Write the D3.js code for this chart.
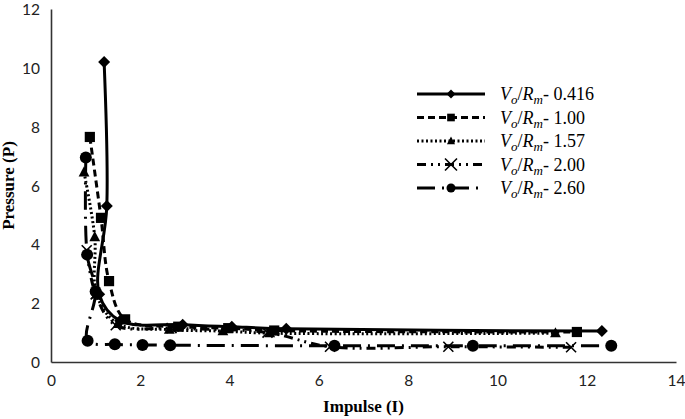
<!DOCTYPE html>
<meta charset="utf-8">
<script src="https://d3js.org/d3.v7.min.js"></script>
<style>
  body { margin: 0; background: #fff; }
</style>
<div id="my_dataviz"></div>
<script>

// series names (V_o/R_m ratio)
var ratios = ["0.416", "1.00", "1.57", "2.00", "2.60"];

// impulse / pressure pairs
var impulse416 = [1.19, 1.25, 1.08, 1.55, 2.95, 4.05, 5.27, 12.34];
var pressure416 = [10.2, 5.3, 2.3, 1.4, 1.27, 1.2, 1.13, 1.05];

var impulse100 = [0.87, 1.12, 1.3, 1.66, 2.85, 3.97, 5.0, 11.78];
var pressure100 = [7.65, 4.9, 2.75, 1.45, 1.2, 1.15, 1.07, 1.02];

var impulse157 = [0.74, 0.98, 1.02, 1.5, 2.65, 3.85, 4.9, 11.3];
var pressure157 = [6.45, 4.25, 2.3, 1.3, 1.1, 1.05, 0.98, 0.98];

var impulse200 = [0.8, 1.0, 1.45, 2.7, 4.85, 6.25, 8.9, 11.65];
var pressure200 = [3.8, 2.3, 1.25, 1.15, 1.0, 0.52, 0.52, 0.5];

var impulse260 = [0.78, 0.81, 1.0, 0.82, 1.43, 2.05, 2.67, 6.35, 9.45, 12.55];
var pressure260 = [6.95, 3.65, 2.4, 0.72, 0.6, 0.58, 0.57, 0.55, 0.55, 0.55];

var xTicks = [0, 2, 4, 6, 8, 10, 12, 14];
var yTicks = [0, 2, 4, 6, 8, 10, 12];

var series = [
  {name: ratios[0], xs: impulse416, ys: pressure416, dash: null, marker: "diamond"},
  {name: ratios[1], xs: impulse100, ys: pressure100, dash: "7,4", marker: "square"},
  {name: ratios[2], xs: impulse157, ys: pressure157, dash: "2,2.5", marker: "triangle"},
  {name: ratios[3], xs: impulse200, ys: pressure200, dash: "9,5,2,5,2,5", marker: "cross"},
  {name: ratios[4], xs: impulse260, ys: pressure260, dash: "18,7,2,7", marker: "circle"}
];

var margin = {top: 9, right: 9, bottom: 57, left: 51},
    width = 685 - margin.left - margin.right,
    height = 419 - margin.top - margin.bottom;

var svg = d3.select("#my_dataviz")
  .append("svg")
    .attr("width", 685)
    .attr("height", 419)
  .append("g")
    .attr("transform", "translate(" + margin.left + "," + margin.top + ")");

var x = d3.scaleLinear().domain([0, 14]).range([0, width]);
var y = d3.scaleLinear().domain([0, 12]).range([height, 0]);

// axes (no tick marks, like the original)
var xAxis = svg.append("g")
  .attr("transform", "translate(0," + height + ")")
  .call(d3.axisBottom(x).tickValues(xTicks).tickSize(0).tickPadding(13));
var yAxis = svg.append("g")
  .call(d3.axisLeft(y).tickValues(yTicks).tickSize(0).tickPadding(11));

[xAxis, yAxis].forEach(function(a) {
  a.select(".domain").attr("stroke", "#333").attr("stroke-width", 1.6);
  a.selectAll("text")
    .attr("font-family", "Lato, 'Open Sans', sans-serif")
    .attr("font-size", 15.5)
    .attr("fill", "#222");
});
yAxis.selectAll("text").attr("dy", "0.36em");

// axis titles
svg.append("text")
  .attr("x", width / 2)
  .attr("y", height + 50)
  .attr("text-anchor", "middle")
  .attr("font-family", "'Liberation Serif', serif")
  .attr("font-weight", "bold")
  .attr("font-size", 17)
  .text("Impulse (I)");

svg.append("text")
  .attr("transform", "translate(" + (-37) + "," + (height / 2) + ") rotate(-90)")
  .attr("text-anchor", "middle")
  .attr("font-family", "'Liberation Serif', serif")
  .attr("font-weight", "bold")
  .attr("font-size", 17)
  .text("Pressure (P)");

var line = d3.line()
  .x(function(d) { return x(d[0]); })
  .y(function(d) { return y(d[1]); })
  .curve(d3.curveCatmullRom.alpha(0.5));

function drawMarker(g, type, cx, cy, s) {
  if (type === "diamond") {
    g.append("path")
      .attr("d", "M" + cx + "," + (cy - s) + "L" + (cx + s) + "," + cy + "L" + cx + "," + (cy + s) + "L" + (cx - s) + "," + cy + "Z")
      .attr("fill", "#000");
  } else if (type === "square") {
    g.append("rect")
      .attr("x", cx - s * 0.85).attr("y", cy - s * 0.85)
      .attr("width", s * 1.7).attr("height", s * 1.7)
      .attr("fill", "#000");
  } else if (type === "triangle") {
    g.append("path")
      .attr("d", "M" + cx + "," + (cy - s) + "L" + (cx + s * 0.9) + "," + (cy + s * 0.7) + "L" + (cx - s * 0.9) + "," + (cy + s * 0.7) + "Z")
      .attr("fill", "#000");
  } else if (type === "cross") {
    g.append("path")
      .attr("d", "M" + (cx - s) + "," + (cy - s) + "L" + (cx + s) + "," + (cy + s) + "M" + (cx + s) + "," + (cy - s) + "L" + (cx - s) + "," + (cy + s))
      .attr("stroke", "#000").attr("stroke-width", 1.6).attr("fill", "none");
  } else {
    g.append("circle")
      .attr("cx", cx).attr("cy", cy).attr("r", s)
      .attr("fill", "#000");
  }
}

series.forEach(function(s) {
  var pts = s.xs.map(function(v, i) { return [v, s.ys[i]]; });
  svg.append("path")
    .datum(pts)
    .attr("fill", "none")
    .attr("stroke", "#000")
    .attr("stroke-width", 3)
    .attr("stroke-dasharray", s.dash)
    .attr("d", line);
  var mg = svg.append("g");
  pts.forEach(function(p) {
    drawMarker(mg, s.marker, x(p[0]), y(p[1]), s.marker === "cross" ? 5 : 6);
  });
});

// legend
var legend = svg.append("g")
  .attr("transform", "translate(" + (417 - margin.left) + "," + (94 - margin.top) + ")");

series.forEach(function(s, i) {
  var row = legend.append("g").attr("transform", "translate(0," + (i * 23.5) + ")");
  row.append("line")
    .attr("x1", 0).attr("x2", 68)
    .attr("y1", 0).attr("y2", 0)
    .attr("stroke", "#000")
    .attr("stroke-width", 3)
    .attr("stroke-dasharray", s.dash);
  drawMarker(row, s.marker, 34, 0, s.marker === "cross" ? 6 : 4.5);
  var t = row.append("text")
    .attr("x", 83)
    .attr("y", 6)
    .attr("font-family", "'Liberation Serif', serif")
    .attr("font-size", 18);
  t.append("tspan").attr("font-style", "italic").text("V");
  t.append("tspan").attr("font-style", "italic").attr("font-size", 13).attr("dy", 4).text("o");
  t.append("tspan").attr("dy", -4).text("/");
  t.append("tspan").attr("font-style", "italic").text("R");
  t.append("tspan").attr("font-style", "italic").attr("font-size", 13).attr("dy", 4).text("m");
  t.append("tspan").attr("dy", -4).text("- " + s.name);
});

</script>
